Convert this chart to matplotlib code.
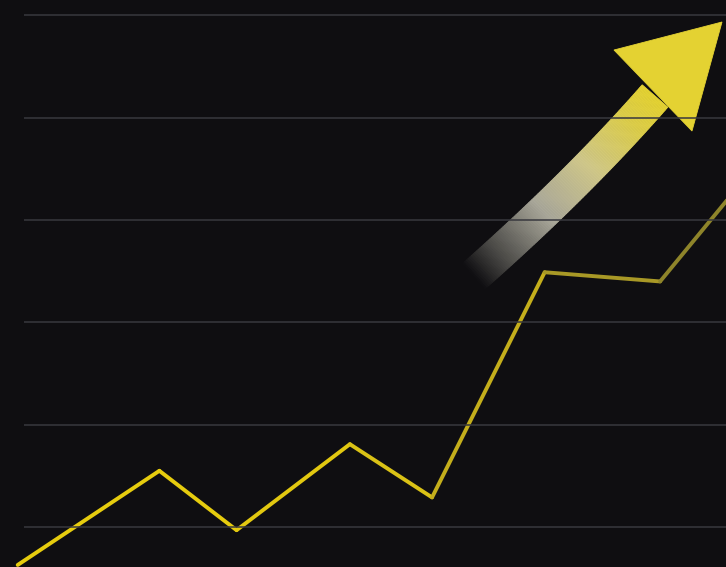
import numpy as np
import matplotlib
matplotlib.use("Agg")
import matplotlib.pyplot as plt
from matplotlib.patches import Polygon
from matplotlib.colors import to_rgb

# growth line: period vs. value
period = [0.0, 2.0, 3.09, 4.69, 5.85, 7.44, 9.07, 10.2]
value = [-0.37, 0.55, -0.03, 0.81, 0.29, 2.49, 2.40, 3.35]
seg_colors = ["#e6cc0e", "#e6cc0e", "#e2c810", "#dac216", "#c4ae1c", "#a89826", "#8e842a"]
grid_levels = [0, 1, 2, 3, 4, 5]

bg = "#0f0e11"
W, H = 726, 567

fig = plt.figure(figsize=(W / 100, H / 100), dpi=100, facecolor=bg)

# overlay in pixel units for the decorative arrow (drawn under the grid)
ax2 = fig.add_axes([0, 0, 1, 1], zorder=0)
ax2.set_xlim(0, W)
ax2.set_ylim(H, 0)
ax2.axis("off")
ax2.set_facecolor(bg)

ax = fig.add_axes([0, 0, 1, 1], zorder=1)
ax.set_facecolor("none")
ax.set_xlim(-0.25, 10.0)
ax.set_ylim(-0.39, 5.15)
ax.axis("off")

# horizontal rules
ax.hlines(grid_levels, 0.09, 10.0, colors="#38383e", linewidth=1.1, zorder=3)

# line drawn segment by segment so it dims toward the right
for i in range(len(period) - 1):
    ax.plot(period[i:i + 2], value[i:i + 2], color=seg_colors[i], linewidth=2.8,
            solid_capstyle="round", solid_joinstyle="miter", zorder=2)

# curved arrow: quadratic bezier centreline with a fading shaft
p0 = np.array([474.0, 276.0])
p1 = np.array([578.0, 184.0])
p2 = np.array([655.0, 96.0])
half_w = 17.0
n = 120
t = np.linspace(0, 1, n + 1)
pts = ((1 - t)[:, None] ** 2) * p0 + (2 * (1 - t) * t)[:, None] * p1 + (t[:, None] ** 2) * p2
tan = 2 * (1 - t)[:, None] * (p1 - p0) + 2 * t[:, None] * (p2 - p1)
tan /= np.linalg.norm(tan, axis=1)[:, None]
nrm = np.column_stack([-tan[:, 1], tan[:, 0]])
left = pts + nrm * half_w
right = pts - nrm * half_w

stops = [0.0, 0.12, 0.35, 0.6, 0.85, 1.0]
stop_cols = [to_rgb(bg), to_rgb("#4a4946"), to_rgb("#a9a79a"), to_rgb("#cfc78a"),
             to_rgb("#dccd4a"), to_rgb("#e4d232")]
stop_cols = np.array(stop_cols)
for i in range(n):
    tm = (t[i] + t[i + 1]) / 2
    c = [np.interp(tm, stops, stop_cols[:, k]) for k in range(3)]
    quad = [left[i], left[i + 1], right[i + 1], right[i]]
    ax2.add_patch(Polygon(quad, closed=True, facecolor=c, edgecolor=c, linewidth=0.6))

head = [(614, 50), (722, 22), (692, 131)]
ax2.add_patch(Polygon(head, closed=True, facecolor="#e4d232", edgecolor="#e4d232", linewidth=0.6))

fig.savefig("out.png", dpi=100, facecolor=bg)
